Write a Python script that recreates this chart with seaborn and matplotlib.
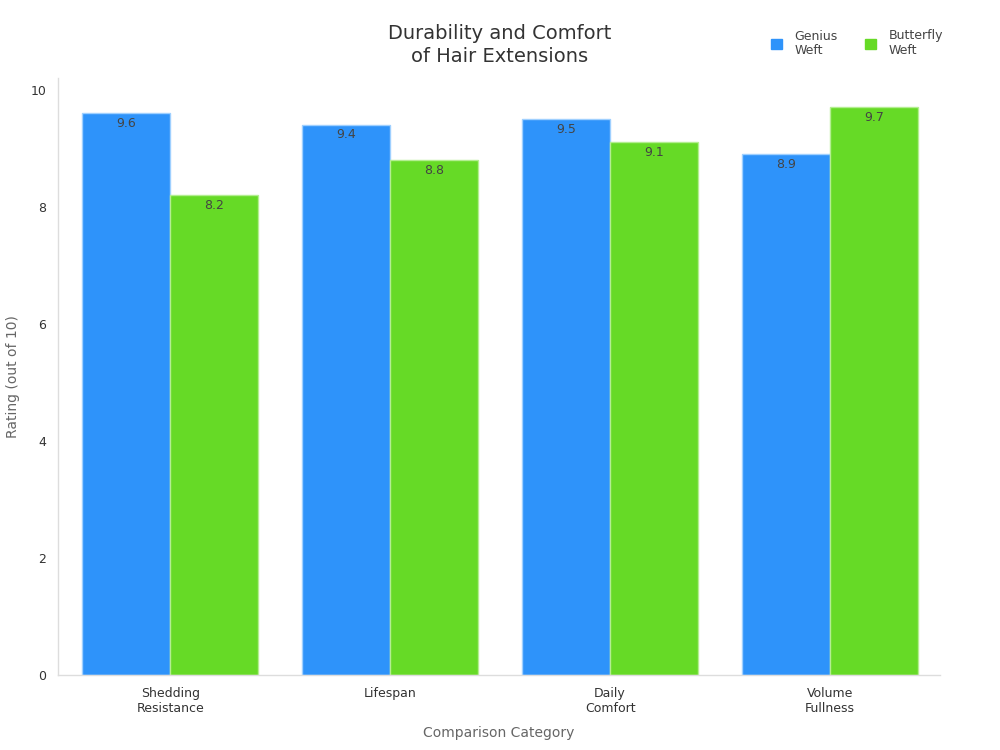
import matplotlib
matplotlib.use("Agg")
import matplotlib.pyplot as plt
import pandas as pd
import seaborn as sns

categories = ["Shedding\nResistance", "Lifespan", "Daily\nComfort", "Volume\nFullness"]
series = ["Genius\nWeft", "Butterfly\nWeft"]
genius = [9.6, 9.4, 9.5, 8.9]
butterfly = [8.2, 8.8, 9.1, 9.7]

BLUE = "#2E93FA"
GREEN = "#66DA26"

df = pd.DataFrame({
    "category": categories * 2,
    "series": [series[0]] * 4 + [series[1]] * 4,
    "value": genius + butterfly,
})

sns.set_style("white")
plt.rcParams["font.family"] = ["DejaVu Sans"]

fig = plt.figure(figsize=(10, 7.5), dpi=100)
ax = fig.add_axes([0.058, 0.1, 0.882, 0.796])

sns.barplot(data=df, x="category", y="value", hue="series",
            palette=[BLUE, GREEN], width=0.8, ax=ax, legend=False,
            saturation=1)

edge = {0: "#9fd0ff", 1: "#b3ee90"}
for i, cont in enumerate(ax.containers):
    for p in cont.patches:
        p.set_edgecolor(edge[i])
        p.set_linewidth(1.0)
    ax.bar_label(cont, fmt="%.1f", padding=-12, color="#444444", fontsize=9)

ax.set_xlim(-0.51, 3.5)
ax.set_ylim(0, 10.2)
ax.set_yticks([0, 2, 4, 6, 8, 10])
ax.set_xlabel("Comparison Category", fontsize=10, color="#666666")
ax.set_ylabel("Rating (out of 10)", fontsize=10, color="#666666")
ax.xaxis.set_label_coords(0.5, -0.086)
ax.yaxis.set_label_coords(-0.043, 0.5)
ax.tick_params(axis="both", colors="#333333", labelsize=9, length=5, width=0.8)
ax.tick_params(axis="x", color="#999999")
ax.tick_params(axis="y", color="#999999")
for s in ["top", "right"]:
    ax.spines[s].set_visible(False)
for s in ["left", "bottom"]:
    ax.spines[s].set_color("#dddddd")
    ax.spines[s].set_linewidth(1.0)

fig.text(0.5, 0.94, "Durability and Comfort\nof Hair Extensions", ha="center",
         va="center", fontsize=14, color="#333333", linespacing=1.3)

handles = [plt.Rectangle((0, 0), 1, 1, color=BLUE),
           plt.Rectangle((0, 0), 1, 1, color=GREEN)]
fig.legend(handles, series, loc="center", bbox_to_anchor=(0.857, 0.942),
           ncol=2, frameon=False, fontsize=9, handlelength=0.9, handleheight=0.9,
           columnspacing=2.2, handletextpad=1.0, labelcolor="#444444")

fig.savefig("out.png", dpi=100)
